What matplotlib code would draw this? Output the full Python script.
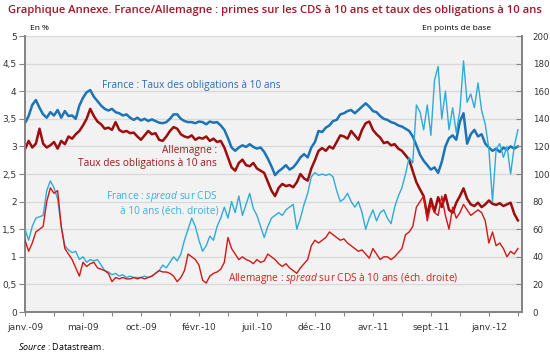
import numpy as np
import matplotlib
matplotlib.use("Agg")
import matplotlib.pyplot as plt

plt.rcParams['mathtext.fontset'] = 'custom'
plt.rcParams['mathtext.it'] = 'Open Sans:italic'
plt.rcParams['mathtext.rm'] = 'Open Sans'

# x tick labels (one every second tick)
month_labels = ["janv.-09", "mai-09", "oct.-09", "févr.-10", "juil.-10",
                "déc.-10", "avr.-11", "sept.-11", "janv.-12"]

# France : taux des obligations à 10 ans (%)
fr_taux = [
    3.42, 3.55, 3.75, 3.84, 3.70, 3.58, 3.52, 3.62, 3.56, 3.66, 3.52, 3.64,
    3.55, 3.56, 3.50, 3.74, 3.88, 3.98, 4.02, 3.90, 3.82, 3.74, 3.68, 3.65,
    3.68, 3.62, 3.60, 3.56, 3.58, 3.52, 3.48, 3.52, 3.47, 3.50, 3.46, 3.49,
    3.46, 3.43, 3.42, 3.44, 3.50, 3.58, 3.58, 3.50, 3.46, 3.44, 3.44, 3.42,
    3.45, 3.44, 3.40, 3.45, 3.43, 3.44, 3.38, 3.30, 3.15, 2.98, 2.92, 2.98,
    3.02, 2.99, 3.04, 2.99, 2.96, 2.98, 2.90, 2.78, 2.64, 2.48, 2.55, 2.60,
    2.66, 2.58, 2.62, 2.70, 2.80, 2.86, 2.80, 2.98, 3.08, 3.28, 3.26, 3.34,
    3.38, 3.46, 3.48, 3.58, 3.60, 3.64, 3.66, 3.60, 3.66, 3.72, 3.78, 3.72,
    3.64, 3.62, 3.55, 3.50, 3.48, 3.44, 3.42, 3.38, 3.36, 3.32, 3.28, 3.18,
    3.02, 2.85, 2.74, 2.66, 2.58, 2.62, 2.52, 2.72, 3.00, 3.15, 3.20, 3.12,
    3.45, 3.60, 3.05, 3.22, 3.30, 3.18, 3.22, 3.05, 2.98, 2.92, 2.96, 2.90,
    2.98, 2.94, 3.00, 2.96, 3.00,
]

# Allemagne : taux des obligations à 10 ans (%)
de_taux = [
    2.95, 3.10, 2.98, 3.05, 3.32, 3.05, 2.98, 3.02, 3.08, 2.96, 3.10, 3.04,
    3.18, 3.14, 3.22, 3.28, 3.38, 3.50, 3.68, 3.55, 3.45, 3.40, 3.32, 3.34,
    3.30, 3.44, 3.30, 3.26, 3.28, 3.24, 3.25, 3.18, 3.12, 3.20, 3.28, 3.22,
    3.24, 3.12, 3.10, 3.18, 3.28, 3.35, 3.32, 3.22, 3.18, 3.16, 3.20, 3.12,
    3.16, 3.14, 3.18, 3.10, 3.14, 3.08, 3.10, 2.98, 2.80, 2.62, 2.56, 2.70,
    2.76, 2.66, 2.64, 2.70, 2.60, 2.56, 2.52, 2.36, 2.20, 2.10, 2.25, 2.32,
    2.28, 2.30, 2.26, 2.35, 2.50, 2.42, 2.38, 2.60, 2.75, 2.92, 2.97, 2.92,
    3.00, 2.96, 3.08, 3.20, 3.18, 3.14, 3.28, 3.20, 3.12, 3.30, 3.42, 3.45,
    3.30, 3.22, 3.16, 3.06, 3.08, 3.02, 3.04, 2.96, 2.92, 2.84, 2.76, 2.55,
    2.35, 2.22, 2.10, 1.75, 2.05, 1.82, 2.08, 1.90, 2.12, 1.85, 1.80, 1.98,
    2.10, 2.24, 2.05, 1.95, 1.92, 1.98, 1.90, 1.95, 2.02, 1.96, 1.94, 1.97,
    1.92, 1.95, 1.98, 1.78, 1.66,
]

# France : spread sur CDS à 10 ans (points de base)
fr_cds = [
    60, 52, 62, 68, 69, 70, 88, 95, 90, 82, 62, 48,
    45, 43, 44, 38, 40, 36, 38, 37, 38, 34, 30, 29,
    27, 28, 26, 27, 25, 26, 25, 25, 25, 26, 25, 26,
    28, 30, 34, 32, 36, 40, 37, 42, 52, 60, 68, 62,
    52, 44, 48, 55, 52, 62, 68, 76, 68, 80, 72, 84,
    70, 78, 86, 75, 70, 62, 54, 62, 68, 70, 72, 70,
    74, 76, 78, 60, 68, 78, 86, 98, 101, 99, 100, 99,
    100, 98, 88, 80, 82, 86, 80, 76, 80, 72, 60, 68,
    74, 66, 72, 74, 68, 64, 76, 84, 90, 100, 112, 108,
    150, 145, 132, 150, 128, 168, 178, 140, 160, 132, 148, 130,
    146, 182, 152, 158, 148, 166, 146, 136, 118, 80, 118, 122,
    112, 120, 100, 120, 132,
]

# Allemagne : spread sur CDS à 10 ans (points de base)
de_cds = [
    52, 44, 50, 58, 60, 62, 80, 90, 86, 88, 62, 46,
    42, 38, 32, 26, 36, 33, 35, 36, 32, 31, 30, 28,
    22, 25, 24, 25, 24, 24, 25, 24, 25, 24, 25, 26,
    28, 30, 29, 29, 28, 26, 22, 25, 30, 42, 40, 38,
    34, 23, 21, 26, 28, 29, 31, 36, 54, 46, 42, 38,
    40, 38, 37, 35, 38, 36, 37, 42, 40, 38, 35, 33,
    35, 32, 30, 28, 32, 35, 38, 48, 52, 50, 52, 54,
    58, 56, 54, 52, 53, 50, 48, 46, 44, 45, 42, 39,
    46, 42, 38, 40, 40, 38, 40, 43, 46, 56, 58, 62,
    76, 80, 84, 66, 78, 72, 70, 84, 70, 60, 76, 68,
    72, 78, 74, 70, 72, 74, 72, 66, 50, 58, 48, 50,
    46, 40, 44, 42, 46,
]

x = np.arange(len(fr_taux))

c_fr = "#1b74b6"
c_de = "#9c0d0d"
c_fr_cds = "#2eabd8"
c_de_cds = "#d41616"
spine_c = "#858585"

fig = plt.figure(figsize=(5.5, 3.55), dpi=100)
ax = fig.add_axes([25 / 550, 43 / 355, 496.5 / 550, 276 / 355])
ax.set_facecolor("#f2f2f2")

ax.plot(x, fr_taux, color=c_fr, lw=1.8, zorder=3)
ax.plot(x, de_taux, color=c_de, lw=1.8, zorder=3)

ax.set_ylim(0, 5)
ax.set_xlim(0, 137)
ax.set_yticks(np.arange(0, 5.01, 0.5))
ax.set_yticklabels(["0", "0,5", "1", "1,5", "2", "2,5", "3", "3,5", "4", "4,5", "5"])
ax.yaxis.grid(True, color="#dadada", lw=1)
ax.set_axisbelow(True)

ax.set_xticks(np.arange(0, 137, 8))
ax.set_xticklabels([lab for pair in zip(month_labels, [""] * 9) for lab in pair])

ax2 = ax.twinx()
ax2.plot(x, fr_cds, color=c_fr_cds, lw=1.0, zorder=4)
ax2.plot(x, de_cds, color=c_de_cds, lw=1.0, zorder=4)
ax2.set_ylim(0, 200)
ax2.set_yticks(np.arange(0, 201, 20))

for a in (ax, ax2):
    a.spines["top"].set_visible(False)
    for s in ("left", "right", "bottom"):
        a.spines[s].set_color(spine_c)
        a.spines[s].set_linewidth(1.3)

ax.tick_params(axis="y", direction="out", length=4, width=0.8, color=spine_c,
               labelsize=6.5, pad=2, labelcolor="#333333")
ax.tick_params(axis="x", direction="out", length=3, width=0.8, color=spine_c,
               labelsize=6.5, pad=5, labelcolor="#333333")
ax2.tick_params(axis="y", direction="in", length=4, width=0.8, color=spine_c,
                labelsize=6.2, pad=8, labelcolor="#333333")

# title, units, source
fig.text(0.5, 1 - 10 / 355, "Graphique Annexe. France/Allemagne : primes sur les CDS à 10 ans "
         "et taux des obligations à 10 ans", ha="center", va="center",
         color="#a3162b", fontsize=8.1, family="Open Sans", weight="semibold")
fig.text(30 / 550, 1 - 29 / 355, "En %", ha="left", va="center",
         fontsize=6, family="Open Sans")
fig.text(491 / 550, 1 - 29 / 355, "En points de base", ha="right", va="center",
         fontsize=6, family="Open Sans")
fig.text(18 / 550, 1 - 346 / 355, r"$\mathit{Source}$ : Datastream.", ha="left",
         va="center", fontsize=6.5, family="Open Sans")

# series labels
def axfrac(px, py):
    return (px - 25) / 496.5, (312 - py) / 276

ax.text(*axfrac(102, 85), "France : Taux des obligations à 10 ans", transform=ax.transAxes,
        ha="left", va="center", color="#2a6db2", fontsize=7.3, family="Open Sans")
ax.text(*axfrac(217, 157), "Allemagne :\nTaux des obligations à 10 ans", transform=ax.transAxes,
        ha="right", va="center", multialignment="right", color="#9c1a1a",
        fontsize=7.3, family="Open Sans", linespacing=1.2)
ax.text(*axfrac(218, 203), "France : $\\mathit{spread}$ sur CDS\nà 10 ans (éch. droite)",
        transform=ax.transAxes, ha="right", va="center", multialignment="right",
        color="#3bb0da", fontsize=7.3, family="Open Sans", linespacing=1.2, zorder=5)
ax.text(*axfrac(228, 279), "Allemagne : $\\mathit{spread}$ sur CDS à 10 ans (éch. droite)",
        transform=ax.transAxes, ha="left", va="center", color="#d42020",
        fontsize=7.3, family="Open Sans")

fig.savefig("out.png", dpi=100)
